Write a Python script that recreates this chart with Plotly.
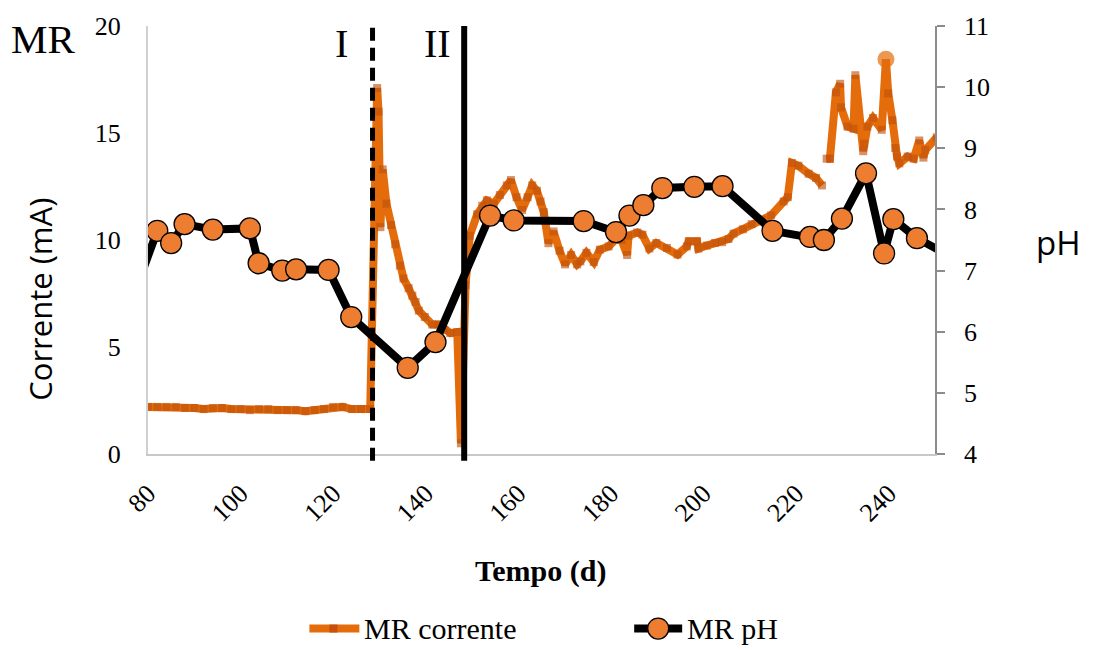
import plotly.graph_objects as go

# ---------------- data ----------------
corrente_dias = [80, 82, 84, 86, 88, 90, 92, 94, 96, 98, 100, 102, 104, 106, 108, 110, 112, 114, 116, 118,
                 120, 122, 124, 126, 128,
                 129.5, 129.8, 130.2, 130.7, 131.5, 132.5, 133.4, 134.4, 135.2, 136.3, 137.1, 137.8, 138.5,
                 139.8, 141.4, 142.8, 144.0, 145.3, 146.8, 147.6, 148.6, 149.5, 151.1, 152.2, 153.2, 154.7,
                 156.0, 157.5, 158.4, 159.6, 160.8, 162.0, 163.0, 164.0, 164.8, 165.5, 166.5, 167.6, 168.9,
                 170.1, 171.4, 172.7, 173.4, 174.7, 176.3, 177.6, 179.5, 180.9, 182.3, 183.5, 183.8, 185.7,
                 186.8, 188.3, 189.8, 192.1, 194.4, 196.4, 196.8, 198.6, 198.9, 200.7, 202.5, 204.0, 205.4,
                 206.5, 208.5, 210.4, 212.6, 214.6, 217.3, 218.2, 219.1, 220.5, 222.7, 224.3, 225.6, 226.1,
                 226.6, 227.3, 228.6, 229.5, 229.7, 231.1, 232.4, 232.8, 234.5, 234.7, 235.4, 236.6, 238.5,
                 239.4, 239.9, 240.8, 241.4, 241.8, 242.3, 244.1, 245.4, 246.6, 247.5, 247.9, 250.4]
corrente_mA = [2.2, 2.2, 2.2, 2.2, 2.15, 2.15, 2.1, 2.15, 2.15, 2.1, 2.1, 2.05, 2.1, 2.1, 2.05, 2.05, 2.05, 2.0,
               2.05, 2.1, 2.2, 2.2, 2.1, 2.1, 2.1,
               17.1, 16.0, 10.6, 13.3, 11.7, 10.7, 9.8, 8.8, 8.2, 7.75, 7.4, 7.1, 6.7,
               6.4, 6.05, 6.05, 5.8, 5.65, 5.7, 0.5, 7.9, 10.2, 11.2, 11.6, 11.85, 11.7,
               12.1, 12.55, 12.8, 12.0, 11.4, 12.0, 12.55, 12.3, 11.8, 11.3, 9.85, 10.4, 9.5,
               8.86, 9.3, 8.86, 9.0, 9.4, 8.97, 9.55, 9.7, 10.0, 10.0, 9.3, 10.2, 10.35,
               10.25, 9.6, 9.86, 9.63, 9.32, 9.7, 9.94, 9.94, 9.6, 9.74, 9.86, 9.9, 10.05,
               10.3, 10.5, 10.74, 10.95, 11.15, 11.8, 12.0, 13.6, 13.47, 13.1, 12.9, 12.55, None,
               13.8, 13.8, 16.9, 17.3, 16.2, 15.3, 15.2, 17.7, 14.15, 14.5, 15.3, 15.7, 15.15,
               18.45, 16.85, 15.6, 14.3, 13.9, 13.58, 13.9, 13.8, 14.65, 13.85, 14.2, 14.8]

ph_dias = [74, 82.0, 85.0, 87.9, 94.0, 102.0, 103.9, 109.0, 112.0, 119.0, 123.9, 136.1, 142.1, 153.9, 159.0,
           174.1, 181.1, 184.0, 187.0, 191.1, 198.0, 204.1, 214.9, 223.0, 226.0, 229.9, 235.1, 239.0, 241.0,
           246.1, 256]
ph_valores = [6.0, 7.65, 7.45, 7.76, 7.67, 7.69, 7.12, 7.0, 7.02, 7.01, 6.24, 5.41, 5.83, 7.90, 7.82,
              7.81, 7.63, 7.90, 8.07, 8.35, 8.37, 8.38, 7.65, 7.55, 7.50, 7.85, 8.59, 7.28, 7.84,
              7.53, 7.12]

fase_I_dia = 128.5
fase_II_dia = 148.3
x_ticks = [80, 100, 120, 140, 160, 180, 200, 220, 240]
y_ticks = [0, 5, 10, 15, 20]
y2_ticks = [4, 5, 6, 7, 8, 9, 10, 11]

# ---------------- styles ----------------
SERIF = "Liberation Serif, Times New Roman, serif"
SANS = "Open Sans, sans-serif"
ORANGE_LINE = "#E46C0A"
ORANGE_MARK = "rgba(192,80,14,0.9)"
ORANGE_FILL = "#ED7D31"

pico = max(v for v in corrente_mA if v is not None)
sizes = [17 if v == pico else 8 for v in corrente_mA]
symbols = ["circle" if v == pico else "square" for v in corrente_mA]
colors = [ORANGE_LINE if v == pico else ORANGE_MARK for v in corrente_mA]

fig = go.Figure()
fig.add_trace(go.Scatter(
    x=corrente_dias, y=corrente_mA, name="MR corrente", mode="lines+markers",
    line=dict(color=ORANGE_LINE, width=8),
    marker=dict(symbol=symbols, size=sizes, color=colors, line=dict(width=0)),
    connectgaps=False, yaxis="y", showlegend=False))
fig.add_trace(go.Scatter(
    x=ph_dias, y=ph_valores, name="MR pH", mode="lines+markers",
    line=dict(color="black", width=8),
    marker=dict(symbol="circle", size=21, color=ORANGE_FILL, line=dict(color="black", width=1.3)),
    yaxis="y2", showlegend=False))

W, H = 1094, 650
L, R, T, B = 147.5, 935, 20, 454


def px(x):
    return (x - L) / (R - L)


def py(y):
    return (B - y) / (B - T)


shapes = [
    dict(type="line", xref="x", yref="paper", x0=fase_I_dia, x1=fase_I_dia, y0=-0.016, y1=1.0,
         line=dict(color="black", width=5, dash="13px,7px"), layer="above"),
    dict(type="line", xref="x", yref="paper", x0=fase_II_dia, x1=fase_II_dia, y0=-0.016, y1=1.0,
         line=dict(color="black", width=6), layer="above"),
]
# manual legend
ly = py(631)
shapes += [
    dict(type="line", xref="paper", yref="paper", x0=px(309), x1=px(359), y0=ly, y1=ly,
         line=dict(color=ORANGE_LINE, width=8)),
    dict(type="rect", xref="paper", yref="paper", xsizemode="pixel", ysizemode="pixel",
         xanchor=px(333), yanchor=ly, x0=-4, x1=4, y0=-4, y1=4,
         fillcolor=ORANGE_MARK, line=dict(width=0)),
    dict(type="line", xref="paper", yref="paper", x0=px(634), x1=px(682), y0=ly, y1=ly,
         line=dict(color="black", width=8)),
    dict(type="circle", xref="paper", yref="paper", xsizemode="pixel", ysizemode="pixel",
         xanchor=px(658), yanchor=ly, x0=-10.5, x1=10.5, y0=-10.5, y1=10.5,
         fillcolor=ORANGE_FILL, line=dict(color="black", width=1.3)),
]


def ann(text, x, y, family, size, **kw):
    d = dict(text=text, x=px(x), y=py(y), xref="paper", yref="paper", showarrow=False,
             xanchor="center", yanchor="middle", font=dict(family=family, size=size, color="black"))
    d.update(kw)
    return d


annotations = [
    ann("MR", 42, 33, SERIF, 41),
    ann("I", 341, 38, SERIF, 40),
    ann("II", 437, 38, SERIF, 40),
    ann("Corrente (mA)", 40, 297, SANS, 31, textangle=-90),
    ann("pH", 1059, 240, SANS, 33),
    ann("<b>Tempo (d)</b>", 540, 573, SERIF, 30),
    ann("MR corrente", 362, 631, SERIF, 30, xanchor="left"),
    ann("MR pH", 685, 631, SERIF, 30, xanchor="left"),
]

tick_font = dict(family=SERIF, size=26, color="black")

fig.update_layout(
    width=W, height=H,
    font=dict(family=SERIF, size=26, color="black"),
    margin=dict(l=L, r=W - R, t=T, b=H - B),
    paper_bgcolor="white", plot_bgcolor="white",
    showlegend=False,
    shapes=shapes, annotations=annotations,
)
fig.update_xaxes(range=[80, 250], tickmode="array", tickvals=x_ticks, ticktext=[str(v) for v in x_ticks],
                 tickangle=-45, showgrid=False, zeroline=False,
                 showline=True, linecolor="#C8C8C8", linewidth=2, ticks="",
                 tickfont=tick_font, ticklabelstandoff=12)
fig.update_layout(
    yaxis=dict(range=[0, 20], tickmode="array", tickvals=y_ticks, ticktext=[str(v) for v in y_ticks],
               showgrid=False, zeroline=False,
               showline=True, linecolor="#D0D0D0", linewidth=2, ticks="",
               tickfont=tick_font, ticklabelstandoff=20),
    yaxis2=dict(range=[4, 11], tickmode="array", tickvals=y2_ticks, ticktext=[str(v) for v in y2_ticks],
                overlaying="y", side="right",
                showgrid=False, zeroline=False, showline=True, linecolor="#8C8C8C", linewidth=1.5,
                ticks="outside", ticklen=8, tickcolor="#8C8C8C", tickwidth=1.5,
                tickfont=tick_font, ticklabelstandoff=14),
)

fig.write_html("out.html")
